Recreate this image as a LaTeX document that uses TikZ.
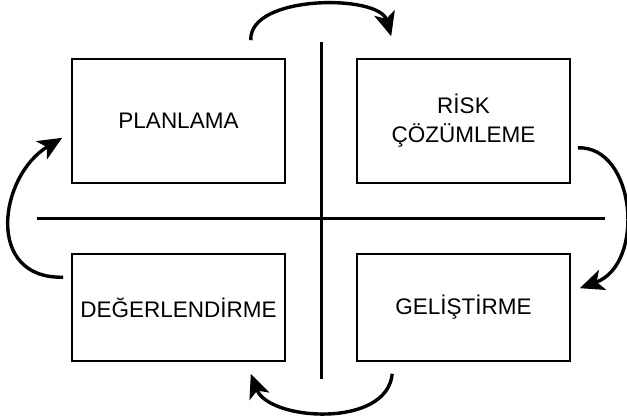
\documentclass[tikz,border=0pt]{standalone}
\usepackage{fontspec}
\setmainfont{Liberation Sans}
\usetikzlibrary{arrows.meta,calc}
\begin{document}
\begin{tikzpicture}[x=1pt,y=-1pt,
  phase/.style={draw,line width=1.6pt,minimum width=213pt,
    inner sep=0pt,align=center,font=\fontsize{22.5}{29}\selectfont},
  axis/.style={line width=3pt},
  cycle/.style={line width=3.4pt,-{Stealth[length=24pt,width=21pt,inset=6pt]}}]
\useasboundingbox (0,0) rectangle (627,419);
% quadrant axes
\coordinate (hl) at (37,219);
\coordinate (hr) at (605,219);
\coordinate (vt) at (321,42);
\coordinate (vb) at (321,379);
\draw[axis] (hl) -- (hr);
\draw[axis] (vt) -- (vb);
% the four phases
\node[phase,minimum height=124pt] (plan)  at (178.5,121) {PLANLAMA};
\node[phase,minimum height=124pt] (risk)  at (463.5,121) {RİSK\\ÇÖZÜMLEME};
\node[phase,minimum height=107pt] (deger) at (178.5,307.5) {DEĞERLENDİRME};
\node[phase,minimum height=107pt] (gel)   at (463.5,307.5) {GELİŞTİRME};
% cycle arrows between phases
\draw[cycle] ($(plan.north east)+(-35,-18)$)
  .. controls ($(plan.north east)+(-37,-64)$) and ($(risk.north west)+(23,-64)$)
  .. ($(risk.north west)+(35,-22)$);
\draw[cycle] ($(risk.south east)+(7,-36)$)
  .. controls ($(risk.south east)+(65,-38)$) and ($(gel.north east)+(75,11)$)
  .. ($(gel.north east)+(9,35)$);
\draw[cycle] ($(gel.south west)+(36,12)$)
  .. controls ($(gel.south west)+(31,67)$) and ($(deger.south east)+(-17,59)$)
  .. ($(deger.south east)+(-35,12)$);
\draw[cycle] ($(deger.north west)+(-8,24)$)
  .. controls ($(deger.north west)+(-87,26)$) and ($(plan.south west)+(-72,-8)$)
  .. ($(plan.south west)+(-9,-46)$);
\end{tikzpicture}
\end{document}
